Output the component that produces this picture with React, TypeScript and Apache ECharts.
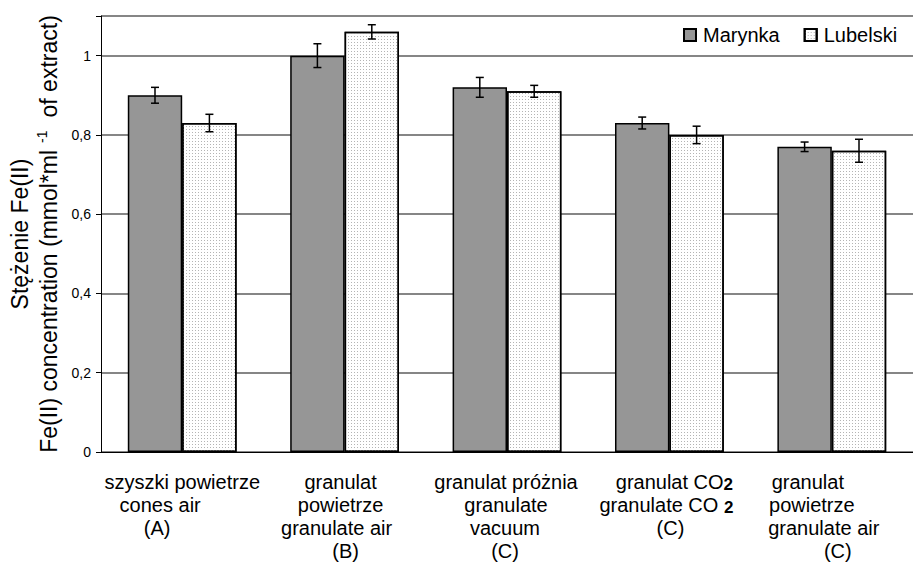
import React, { useEffect, useRef } from 'react';
import * as echarts from 'echarts';

const categories = [
  'szyszki powietrze\ncones air\n(A)',
  'granulat\npowietrze\ngranulate air\n(B)',
  'granulat próżnia\ngranulate\nvacuum\n(C)',
  'granulat CO₂\ngranulate CO ₂\n(C)',
  'granulat\npowietrze\ngranulate air\n(C)',
];
const seriesNames = ['Marynka', 'Lubelski'];
const marynka = [0.9, 1.0, 0.92, 0.83, 0.77];
const marynkaErr = [0.02, 0.03, 0.025, 0.015, 0.012];
const lubelski = [0.83, 1.06, 0.91, 0.8, 0.76];
const lubelskiErr = [0.022, 0.018, 0.015, 0.022, 0.029];
const yTitleLine1 = 'Stężenie Fe(II)';
const yTitleLine2a = 'Fe(II) concentration (mmol*ml';
const yTitleSup = '-1';
const yTitleLine2b = 'of extract)';

// layout: horizontal shift (px) of each label line relative to centred
const lineShift = [
  [0, -22, -25],
  [-4, -4, -8, 1],
  [-1, -1, -2, -2],
  [5, -3, 1],
  [-24, -20, -8, 6],
];

const FONT = "'Liberation Sans', Arial, Helvetica, sans-serif";
const BAR_FRAC = 0.335;

function buildLabelRich() {
  const rich: Record<string, any> = {};
  lineShift.forEach((lines, i) => {
    lines.forEach((s, j) => {
      const base = { fontSize: 20, lineHeight: 23, color: '#000', fontFamily: FONT };
      const hasSub = categories[i].split('\n')[j].includes('₂');
      const left = s > 0 ? 2 * s : 0;
      const right = s < 0 ? -2 * s : 0;
      rich[`t${i}_${j}`] = { ...base, padding: [0, hasSub ? 0 : right, 0, left] };
      rich[`s${i}_${j}`] = {
        ...base,
        fontSize: 17,
        lineHeight: 18,
        verticalAlign: 'bottom',
        fontWeight: 'bold',
        padding: [0, right, 0, 0],
      };
    });
  });
  return rich;
}

function formatLabel(value: string, index: number) {
  const i = categories.indexOf(value);
  const idx = i >= 0 ? i : index;
  return value
    .split('\n')
    .map((line, j) => {
      if (line.includes('₂')) {
        const parts = line.split('₂');
        return `{t${idx}_${j}|${parts[0]}}{s${idx}_${j}|2}`;
      }
      return `{t${idx}_${j}|${line}}`;
    })
    .join('\n');
}

function errorSeries(name: string, values: number[], errs: number[], side: number) {
  return {
    type: 'custom',
    name: name + ' error',
    silent: true,
    z: 10,
    data: values.map((v, i) => [i, v - errs[i], v + errs[i]]),
    encode: { x: 0, y: [1, 2] },
    renderItem: (params: any, api: any) => {
      const idx = api.value(0);
      const lo = api.coord([idx, api.value(1)]);
      const hi = api.coord([idx, api.value(2)]);
      const band = api.size([1, 0])[0];
      const x = lo[0] + (side * band * BAR_FRAC) / 2;
      const half = 4;
      const st = { stroke: '#000', lineWidth: 1.5 };
      return {
        type: 'group',
        children: [
          { type: 'line', shape: { x1: x, y1: lo[1], x2: x, y2: hi[1] }, style: st },
          { type: 'line', shape: { x1: x - half, y1: hi[1], x2: x + half, y2: hi[1] }, style: st },
          { type: 'line', shape: { x1: x - half, y1: lo[1], x2: x + half, y2: lo[1] }, style: st },
        ],
      };
    },
  };
}

export default function App() {
  const ref = useRef<HTMLDivElement>(null);
  useEffect(() => {
    if (!ref.current) return;
    const chart = echarts.init(ref.current, undefined, { renderer: 'svg' });
    chart.setOption({
      animation: false,
      backgroundColor: '#fff',
      textStyle: { fontFamily: FONT },
      grid: { left: 101, right: -8, top: 16, bottom: 113, containLabel: false },
      legend: {
        data: seriesNames,
        left: 678,
        top: 20,
        icon: 'rect',
        itemWidth: 12,
        itemHeight: 12,
        itemGap: 24,
        textStyle: { fontSize: 20, color: '#000', fontFamily: FONT, padding: [0, 0, 0, 2] },
      },
      xAxis: {
        type: 'category',
        data: categories,
        axisLine: { lineStyle: { color: '#000', width: 1 } },
        axisTick: { show: false },
        axisLabel: {
          interval: 0,
          margin: 18,
          formatter: formatLabel,
          rich: buildLabelRich(),
          fontSize: 20,
          lineHeight: 23,
          color: '#000',
        },
      },
      yAxis: {
        type: 'value',
        min: 0,
        max: 1.1,
        interval: 0.2,
        axisLine: { show: true, lineStyle: { color: '#000', width: 1 } },
        axisTick: { show: true, length: 5, lineStyle: { color: '#000' } },
        splitLine: { lineStyle: { color: '#868686', width: 2 } },
        axisLabel: {
          margin: 10,
          fontSize: 14,
          color: '#000',
          fontFamily: FONT,
          formatter: (v: number) => (v > 1.05 ? '' : String(Number(v.toFixed(1))).replace('.', ',')),
        },
        name: `{a|${yTitleLine1}}\n{a|${yTitleLine2a}}{s|${yTitleSup}}{a|${yTitleLine2b}}`,
        nameLocation: 'middle',
        nameGap: 32,
        nameRotate: 90,
        nameTextStyle: {
          rich: {
            a: { fontSize: 23, lineHeight: 29, color: '#000', fontFamily: FONT },
            s: { fontSize: 14, lineHeight: 29, color: '#000', fontFamily: FONT, verticalAlign: 'top', padding: [0, 13, 0, 7] },
          },
        },
      },
      series: [
        {
          name: seriesNames[0],
          type: 'bar',
          data: marynka,
          barWidth: (BAR_FRAC * 100).toFixed(1) + '%',
          barGap: '0%',
          itemStyle: { color: '#969696', borderColor: '#000', borderWidth: 1.5 },
        },
        {
          name: seriesNames[1],
          type: 'bar',
          data: lubelski,
          barWidth: (BAR_FRAC * 100).toFixed(1) + '%',
          barGap: '0%',
          itemStyle: {
            color: '#ffffff',
            borderColor: '#000',
            borderWidth: 1.5,
            decal: {
              symbol: 'rect',
              symbolSize: 1,
              color: '#b4b4b4',
              dashArrayX: [1, 2],
              dashArrayY: [1, 2],
              rotation: 0,
            },
          },
        },
        errorSeries(seriesNames[0], marynka, marynkaErr, -1),
        errorSeries(seriesNames[1], lubelski, lubelskiErr, 1),
      ],
    });
    return () => chart.dispose();
  }, []);
  return (
    <div
      ref={ref}
      style={{ position: 'absolute', left: 0, top: 0, width: 913, height: 565, background: '#fff' }}
    />
  );
}
